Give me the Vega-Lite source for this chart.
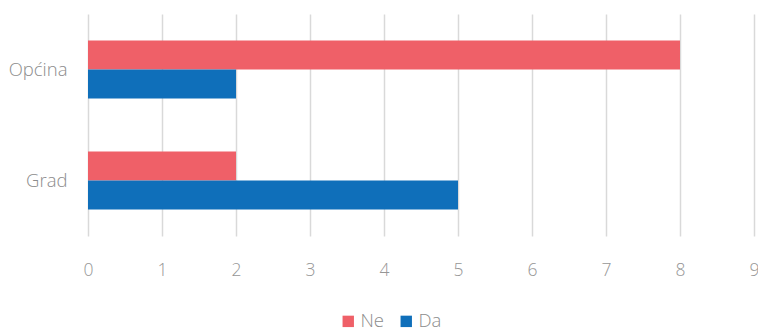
{
  "$schema": "https://vega.github.io/schema/vega-lite/v6.json",
  "width": 666,
  "height": 222,
  "autosize": "none",
  "padding": {"left": 88, "top": 14, "right": 4, "bottom": 96},
  "background": "white",
  "data": {
    "values": [
      {"mjesto": "Općina", "odgovor": "Ne", "broj": 8},
      {"mjesto": "Općina", "odgovor": "Da", "broj": 2},
      {"mjesto": "Grad", "odgovor": "Ne", "broj": 2},
      {"mjesto": "Grad", "odgovor": "Da", "broj": 5}
    ]
  },
  "config": {
    "view": {"stroke": null},
    "font": "Open Sans"
  },
  "mark": {"type": "bar"},
  "encoding": {
    "y": {
      "field": "mjesto",
      "type": "nominal",
      "sort": ["Općina", "Grad"],
      "scale": {"paddingInner": 0.477, "paddingOuter": 0.2385},
      "axis": {
        "title": null,
        "domain": false,
        "ticks": false,
        "grid": false,
        "labelFontSize": 18.5,
        "labelFontWeight": 300,
        "labelColor": "#8C8C8C",
        "labelPadding": 21,
        "labelFont": "Open Sans"
      }
    },
    "yOffset": {"field": "odgovor", "type": "nominal", "sort": ["Ne", "Da"]},
    "x": {
      "field": "broj",
      "type": "quantitative",
      "scale": {"domain": [0, 9], "nice": false},
      "axis": {
        "title": null,
        "values": [0, 1, 2, 3, 4, 5, 6, 7, 8, 9],
        "domain": false,
        "ticks": false,
        "grid": true,
        "gridColor": "#D9D9D9",
        "gridWidth": 1.5,
        "labelFlush": false,
        "labelFontSize": 17.5,
        "labelFontWeight": 300,
        "labelColor": "#969696",
        "labelPadding": 25,
        "labelFont": "Open Sans"
      }
    },
    "color": {
      "field": "odgovor",
      "type": "nominal",
      "scale": {"domain": ["Ne", "Da"], "range": ["#EF6068", "#0F6FBA"]},
      "legend": {
        "title": null,
        "orient": "none",
        "direction": "horizontal",
        "legendX": 251,
        "legendY": 298,
        "symbolType": "square",
        "symbolSize": 130,
        "symbolStrokeWidth": 0,
        "labelFontSize": 18.5,
        "labelFontWeight": 300,
        "labelColor": "#8C8C8C",
        "labelFont": "Open Sans",
        "columnPadding": 12,
        "labelOffset": 3
      }
    }
  }
}
